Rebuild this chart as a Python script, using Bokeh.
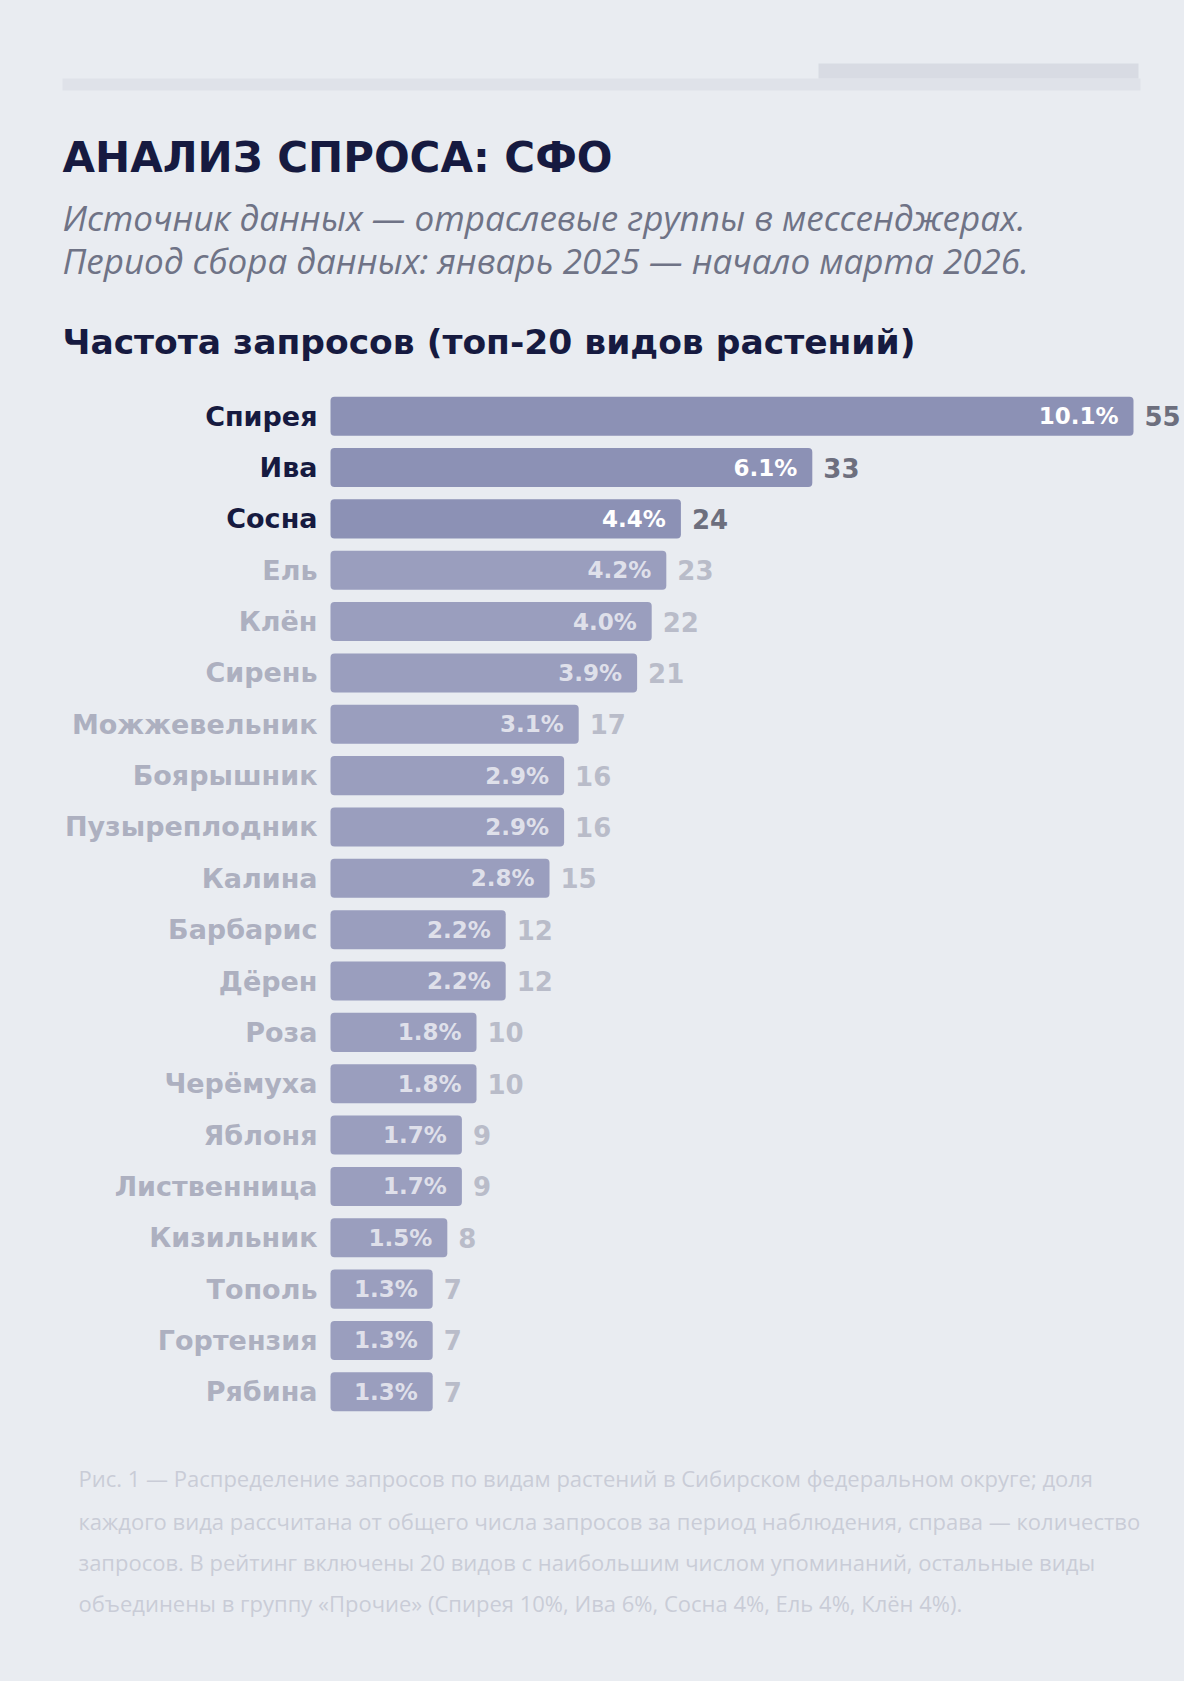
from bokeh.plotting import figure
from bokeh.models import ColumnDataSource, Range1d, FactorRange
from bokeh.layouts import column
from bokeh.embed import file_html
from bokeh.resources import INLINE
from bokeh.core.properties import value

# данные (топ-20 видов растений, СФО)
plants = ["Спирея", "Ива", "Сосна", "Ель", "Клён", "Сирень", "Можжевельник",
          "Боярышник", "Пузыреплодник", "Калина", "Барбарис", "Дёрен", "Роза",
          "Черёмуха", "Яблоня", "Лиственница", "Кизильник", "Тополь",
          "Гортензия", "Рябина"]
counts = [55, 33, 24, 23, 22, 21, 17, 16, 16, 15, 12, 12, 10, 10, 9, 9, 8, 7, 7, 7]
shares = [10.1, 6.1, 4.4, 4.2, 4.0, 3.9, 3.1, 2.9, 2.9, 2.8, 2.2, 2.2, 1.8, 1.8,
          1.7, 1.7, 1.5, 1.3, 1.3, 1.3]
n_open = 3  # первые строки без размытия

title = "АНАЛИЗ СПРОСА: СФО"
subtitle = ["Источник данных — отраслевые группы в мессенджерах.",
            "Период сбора данных: январь 2025 — начало марта 2026."]
heading = "Частота запросов (топ-20 видов растений)"
caption = [
    "Рис. 1 — Распределение запросов по видам растений в Сибирском федеральном округе; доля",
    "каждого вида рассчитана от общего числа запросов за период наблюдения, справа — количество",
    "запросов. В рейтинг включены 20 видов с наибольшим числом упоминаний, остальные виды",
    "объединены в группу «Прочие» (Спирея 10%, Ива 6%, Сосна 4%, Ель 4%, Клён 4%).",
]

BG = "#e9ecf1"
NAVY = "#161a40"
BAR = "#8c91b5"
W = 1184
FONT = value("DejaVu Sans")


def blank(h, xr, yr):
    p = figure(width=W, height=h, x_range=xr, y_range=yr, output_backend="svg",
               toolbar_location=None, min_border=0,
               x_axis_location=None, y_axis_location=None)
    p.grid.grid_line_color = None
    p.outline_line_color = None
    p.background_fill_color = BG
    p.border_fill_color = BG
    return p


# шапка
head = blank(390, Range1d(0, W), Range1d(390, 0))
head.quad(left=[62], right=[1140], top=[78], bottom=[90], fill_color="#dfe2e9",
          line_color=None)
head.quad(left=[818], right=[1138], top=[63], bottom=[78], fill_color="#d8dbe3",
          line_color=None)
head.text(x=[62], y=[157], text=[title], text_font=FONT, text_font_style="bold",
          text_font_size="42px", text_color=NAVY, text_baseline="middle")
head.text(x=[62, 62], y=[217, 260], text=subtitle, text_font=value("Open Sans"),
          text_font_style="italic", text_font_size="35px", text_color="#6f7386",
          text_baseline="middle")
head.text(x=[62], y=[341], text=[heading], text_font=FONT, text_font_style="bold",
          text_font_size="34.5px", text_color=NAVY, text_baseline="middle")

# диаграмма
k = 14.6  # пикселей на один запрос
src = ColumnDataSource(dict(
    plant=plants,
    count=counts,
    share=[f"{s:.1f}%" for s in shares],
    num=[str(c) for c in counts],
    lab_col=[NAVY if i < n_open else "#adb0c0" for i in range(len(plants))],
    num_col=["#6d6f7e" if i < n_open else "#b9bcc9" for i in range(len(plants))],
    bar_alpha=[1.0 if i < n_open else 0.85 for i in range(len(plants))],
    pct_alpha=[1.0 if i < n_open else 0.7 for i in range(len(plants))],
))

p = blank(1027, Range1d(-330 / k, (W - 330) / k), FactorRange(factors=plants[::-1]))
p.hbar(y="plant", left=0, right="count", height=0.76, source=src,
       fill_color=BAR, fill_alpha="bar_alpha", line_color=None, border_radius=4)
p.text(x=0, y="plant", text="plant", source=src, x_offset=-13,
       text_align="right", text_baseline="middle", text_font=FONT,
       text_font_style="bold", text_font_size="27px", text_color="lab_col")
p.text(x="count", y="plant", text="share", source=src, x_offset=-15,
       text_align="right", text_baseline="middle", text_font=FONT,
       text_font_style="bold", text_font_size="23px", text_color="white",
       text_alpha="pct_alpha")
p.text(x="count", y="plant", text="num", source=src, x_offset=11,
       text_align="left", text_baseline="middle", text_font=FONT,
       text_font_style="bold", text_font_size="26px", text_color="num_col")

# подпись
foot = blank(264, Range1d(0, W), Range1d(264, 0))
foot.text(x=[78] * 4, y=[60, 103, 144, 185], text=caption, text_font=value("Open Sans"),
          text_font_size="22px", text_color="#c9ccd7", text_baseline="middle")

layout = column(head, p, foot, spacing=0, styles={"background-color": BG})
open("out.html", "w").write(file_html(layout, INLINE))
